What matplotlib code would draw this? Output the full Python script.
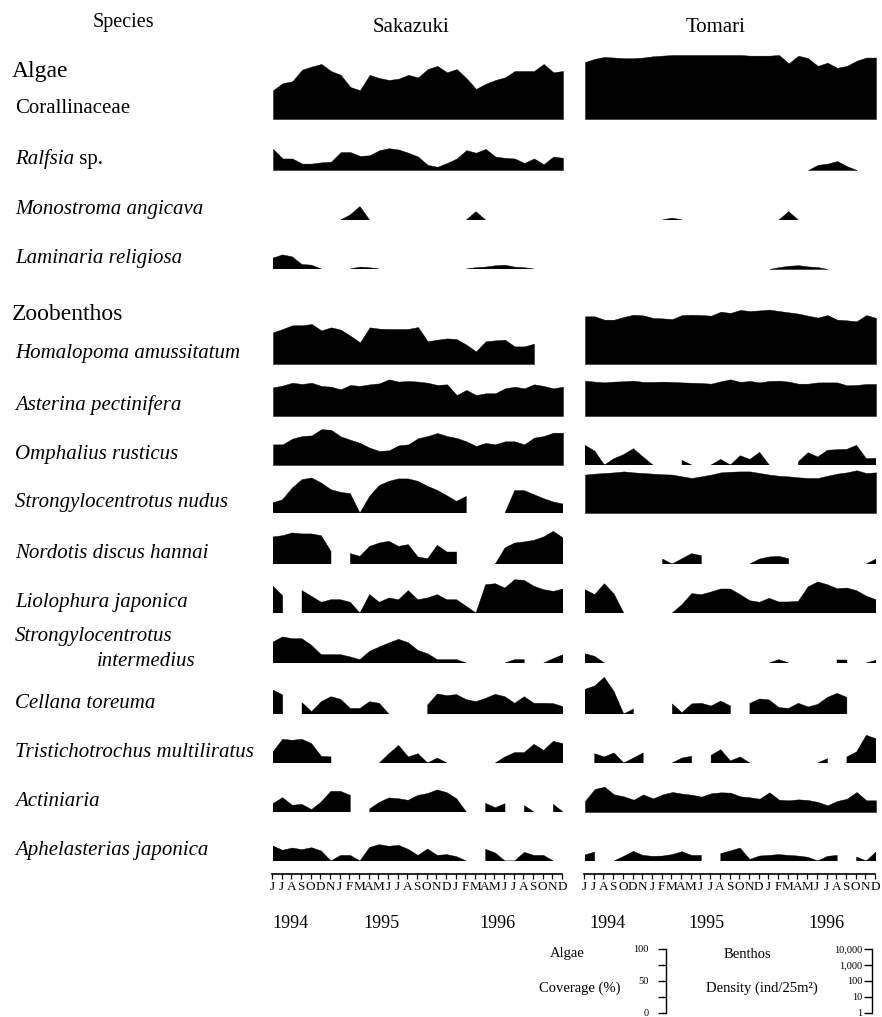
import numpy as np
import matplotlib.pyplot as plt

plt.rcParams['font.family'] = ['Liberation Serif', 'DejaVu Serif']

n = np.nan
W, H = 882, 1017

# month letters, June 1994 - December 1996 (as printed)
months = ['J', 'J', 'A', 'S', 'O', 'D', 'N',
          'J', 'F', 'M', 'A', 'M', 'J', 'J', 'A', 'S', 'O', 'N', 'D',
          'J', 'F', 'M', 'A', 'M', 'J', 'J', 'A', 'S', 'O', 'N', 'D']
years = ['1994', '1995', '1996']
sites = ['Sakazuki', 'Tomari']

# Algae : coverage (%)   nan = not found
coral_sak = [45, 56, 59, 77, 82, 86, 75, 69, 50, 45, 69, 64, 61, 63, 69, 65, 78, 83, 73, 78, 64, 47, 55, 61, 65, 75, 75, 75, 86, 73, 75]
coral_tom = [89, 94, 97, 96, 95, 95, 96, 98, 99, 100, 100, 100, 100, 100, 100, 100, 100, 99, 99, 99, 100, 87, 99, 95, 83, 88, 80, 83, 91, 96, 96]
ralf_sak = [33, 18, 18, 10, 10, 12, 13, 28, 28, 22, 23, 31, 34, 32, 27, 21, 8, 5, 11, 18, 31, 27, 33, 21, 19, 18, 11, 18, 9, 21, 19]
ralf_tom = [n] * 23 + [0, 8, 10, 14, 6, 0] + [n, n]
mono_sak = [n] * 7 + [0, 8, 21, 0] + [n] * 9 + [0, 13, 0] + [n] * 8
mono_tom = [n] * 8 + [0, 3, 0] + [n] * 9 + [0, 13, 0] + [n] * 8
lami_sak = [17, 22, 19, 7, 6, 0, n, n, 0, 3, 2, 0] + [n] * 8 + [0, 2, 3, 5, 6, 3, 2, 0] + [n] * 3
lami_tom = [n] * 19 + [0, 3, 5, 6, 4, 3, 0] + [n] * 5

# Zoobenthos : log10 density (ind/25m2)   nan = not found
homa_sak = [1.98, 2.19, 2.42, 2.42, 2.5, 2.1, 2.29, 2.15, 1.77, 1.35, 2.29, 2.21, 2.19, 2.19, 2.19, 2.31, 1.42, 1.52, 1.6, 1.56, 1.21, 0.79, 1.42, 1.48, 1.52, 1.1, 1.1, 1.27, n, n, n]
homa_tom = [2.98, 2.98, 2.77, 2.77, 2.94, 3.08, 3.04, 2.88, 2.85, 2.81, 3.06, 3.08, 3.06, 3.02, 3.27, 3.19, 3.38, 3.31, 3.35, 3.4, 3.31, 3.23, 3.15, 3.02, 2.9, 3.06, 2.77, 2.73, 2.67, 3.06, 2.88]
aste_sak = [1.79, 1.9, 2.08, 2.0, 2.08, 1.88, 1.83, 1.67, 1.94, 1.88, 1.98, 2.04, 2.29, 2.15, 2.19, 2.15, 2.08, 1.94, 1.98, 1.31, 1.63, 1.31, 1.42, 1.42, 1.73, 1.83, 1.73, 1.98, 1.88, 1.73, 1.83]
aste_tom = [2.21, 2.15, 2.1, 2.15, 2.17, 2.21, 2.13, 2.13, 2.15, 2.13, 2.1, 2.08, 2.06, 2.02, 2.17, 2.29, 2.13, 2.19, 2.1, 2.19, 2.21, 2.15, 2.02, 2.02, 2.1, 2.1, 2.1, 1.92, 1.94, 2.0, 2.0]
omph_sak = [1.29, 1.29, 1.65, 1.81, 1.85, 2.24, 2.2, 1.79, 1.58, 1.38, 1.08, 0.88, 0.92, 1.23, 1.29, 1.67, 1.81, 2.0, 1.81, 1.69, 1.48, 1.19, 1.38, 1.29, 1.48, 1.48, 1.29, 1.71, 1.81, 2.02, 2.02]
omph_tom = [1.23, 0.88, 0, 0.4, 0.65, 1.02, 0.5, 0, n, n, 0.29, 0, n, 0, 0.35, 0, 0.58, 0.35, 0.79, 0, n, n, 0.2, 0.77, 0.5, 0.92, 0.96, 0.98, 1.23, 0.4, 0.42]
nudu_sak = [0.63, 0.83, 1.56, 2.08, 2.19, 1.88, 1.46, 1.29, 1.21, 0, 1.04, 1.71, 1.98, 2.13, 2.13, 1.98, 1.67, 1.42, 1.08, 0.73, 1.04, n, n, n, 0, 1.4, 1.4, 1.15, 0.9, 0.69, 0.56]
nudu_tom = [2.4, 2.46, 2.5, 2.54, 2.6, 2.54, 2.5, 2.46, 2.42, 2.4, 2.29, 2.19, 2.29, 2.4, 2.54, 2.58, 2.6, 2.6, 2.5, 2.4, 2.33, 2.29, 2.23, 2.19, 2.19, 2.33, 2.46, 2.54, 2.67, 2.5, 2.54]
nord_sak = [1.69, 1.77, 1.94, 1.88, 1.88, 1.77, 0.79, n, 0.65, 0.48, 1.1, 1.31, 1.42, 1.1, 1.21, 0.44, 0.33, 1.17, 0.75, 0.75, n, n, n, 0, 1.0, 1.31, 1.38, 1.48, 1.69, 2.04, 1.63]
nord_tom = [n] * 8 + [0.31, 0, 0.33, 0.65, 0.52, n, n, n, n, 0, 0.31, 0.44, 0.48, 0.33] + [n] * 7 + [0, 0.31]
lioi_sak = [1.67, 1.08, n, 1.4, 1.04, 0.67, 0.83, 0.83, 0.67, 0, 1.15, 0.67, 0.94, 0.83, 1.4, 0.83, 0.94, 1.15, 0.83, 0.83, 0.42, 0, 1.77, 1.83, 1.56, 2.08, 2.04, 1.67, 1.46, 1.35, 1.5]
lioi_tom = [1.46, 1.15, 1.83, 1.19, 0, n, n, n, n, 0, 0.52, 1.21, 1.15, 1.31, 1.5, 1.5, 1.15, 0.77, 0.67, 0.92, 0.69, 0.69, 0.73, 1.63, 1.94, 1.77, 1.52, 1.56, 1.4, 1.06, 0.83]
inte_sak = [1.31, 1.63, 1.52, 1.52, 1.1, 0.52, 0.52, 0.52, 0.38, 0.21, 0.73, 1.0, 1.25, 1.48, 1.27, 0.79, 0.58, 0.21, 0.21, 0.21, 0, n, n, n, 0, 0.21, 0.21, n, 0, 0.27, 0.52]
inte_tom = [0.58, 0.42, 0] + [n] * 16 + [0, 0.21, 0, n, n, n, n, 0.21, 0.21, n, 0, 0.17]
cell_sak = [1.5, 1.19, n, 0.71, 0.15, 0.77, 1.08, 0.92, 0.35, 0.35, 0.77, 0.67, 0, n, n, n, 0.56, 1.25, 1.15, 1.21, 0.9, 0.77, 0.98, 1.23, 1.08, 0.67, 1.08, 0.67, 0.67, 0.65, 0.46]
cell_tom = [1.54, 1.75, 2.29, 1.4, 0, 0.31, n, n, n, 0.63, 0.08, 0.63, 0.67, 0.5, 0.81, 0.5, n, 0.67, 0.94, 0.88, 0.4, 0.35, 0.67, 0.44, 0.6, 1.04, 1.29, 1.04, n, n, n]
tris_sak = [0.69, 1.48, 1.42, 1.48, 1.21, 0.42, 0.38, n, n, n, n, 0, 0.58, 1.1, 0.38, 0.58, 0, 0.31, 0, n, n, n, n, 0, 0.38, 0.65, 0.65, 1.17, 0.79, 1.35, 1.21]
tris_tom = [n, 0.58, 0.38, 0.63, 0, 0.31, 0.63, n, n, 0, 0.31, 0.42, n, 0.48, 0.83, 0.13, 0.38, 0, n, n, n, n, n, n, 0, 0.27, n, 0.38, 0.69, 1.73, 1.52]
acti_sak = [0.52, 0.9, 0.42, 0.48, 0.15, 0.63, 1.29, 1.29, 1.04, n, 0.19, 0.6, 0.88, 0.83, 0.73, 1.04, 1.15, 1.38, 1.21, 0.83, 0, n, 0.54, 0.27, 0.52, n, 0.4, 0, n, 0.48, 0]
acti_tom = [0.69, 1.44, 1.58, 1.1, 0.98, 0.77, 1.1, 0.85, 1.1, 1.25, 1.15, 1.08, 0.96, 1.17, 1.23, 1.21, 0.98, 0.92, 0.83, 1.23, 0.77, 0.73, 0.79, 0.75, 0.63, 0.42, 0.69, 0.83, 1.25, 0.73, 0.73]
aphe_sak = [0.94, 0.67, 0.81, 0.71, 0.83, 0.63, 0, 0.35, 0.35, 0, 0.85, 1.02, 0.92, 0.98, 0.73, 0.35, 0.75, 0.35, 0.4, 0.27, 0, n, 0.73, 0.5, 0, 0, 0.54, 0.35, 0.35, 0, n]
aphe_tom = [0.38, 0.56, n, 0, 0.29, 0.6, 0.35, 0.29, 0.31, 0.4, 0.58, 0.35, 0.35, n, 0.46, 0.63, 0.81, 0.1, 0.31, 0.35, 0.4, 0.35, 0.31, 0.23, 0, 0.29, 0.35, n, 0.25, 0, 0.56]

# (label, group, Sakazuki, Tomari, baseline in px)
rows = [
    ('Corallinaceae', 'algae', coral_sak, coral_tom, 119),
    ('Ralfsia', 'algae', ralf_sak, ralf_tom, 170),
    ('Monostroma angicava', 'algae', mono_sak, mono_tom, 220),
    ('Laminaria religiosa', 'algae', lami_sak, lami_tom, 269),
    ('Homalopoma amussitatum', 'benthos', homa_sak, homa_tom, 364),
    ('Asterina pectinifera', 'benthos', aste_sak, aste_tom, 416),
    ('Omphalius rusticus', 'benthos', omph_sak, omph_tom, 465),
    ('Strongylocentrotus nudus', 'benthos', nudu_sak, nudu_tom, 513),
    ('Nordotis discus hannai', 'benthos', nord_sak, nord_tom, 564),
    ('Liolophura japonica', 'benthos', lioi_sak, lioi_tom, 613),
    ('Strongylocentrotus intermedius', 'benthos', inte_sak, inte_tom, 663),
    ('Cellana toreuma', 'benthos', cell_sak, cell_tom, 714),
    ('Tristichotrochus multiliratus', 'benthos', tris_sak, tris_tom, 763),
    ('Actiniaria', 'benthos', acti_sak, acti_tom, 812),
    ('Aphelasterias japonica', 'benthos', aphe_sak, aphe_tom, 861),
]

panel_x = [(273, 563), (585, 876)]   # left / right edge of each site column
full = 64                             # px for 100 % or 4 decades
t = np.arange(len(months))


def fx(x):
    return x / W


def fy(y):
    return 1 - y / H


fig = plt.figure(figsize=(W / 100, H / 100), dpi=100)

# area plots
for label, group, sak, tom, base in rows:
    for vals, (x0, x1) in zip([sak, tom], panel_x):
        ax = fig.add_axes([fx(x0), fy(base), fx(x1 - x0), full / H])
        ax.set_xlim(0, len(months) - 1)
        ax.set_ylim(0, 100 if group == 'algae' else 4)
        ax.axis('off')
        ax.patch.set_visible(False)
        v = np.array(vals, dtype=float)
        ok = ~np.isnan(v)
        ax.fill_between(t, 0, np.nan_to_num(v), where=ok, color='black', lw=0.3)

# species names
for label, group, sak, tom, base in rows:
    y = base - 10.5
    if label == 'Corallinaceae':
        fig.text(fx(15), fy(y), label, fontsize=15, va='center')
    elif label == 'Ralfsia':
        txt = fig.text(fx(15), fy(y), label, fontsize=15, va='center', style='italic')
        # upright "sp." right after the italic genus
        fig.add_artist(plt.Annotation(' sp.', xy=(1, 0), xycoords=txt, fontsize=15,
                                      va='bottom', ha='left'))
    elif label == 'Strongylocentrotus intermedius':
        fig.text(fx(15), fy(637), 'Strongylocentrotus', fontsize=15, va='center', style='italic')
        fig.text(fx(97), fy(662), 'intermedius', fontsize=15, va='center', style='italic')
    else:
        fig.text(fx(15), fy(y), label, fontsize=15, va='center', style='italic')

fig.text(fx(12), fy(72), 'Algae', fontsize=17, va='center')
fig.text(fx(12), fy(315), 'Zoobenthos', fontsize=17, va='center')
fig.text(fx(123), fy(23), 'Species', fontsize=14.5, va='center', ha='center')
fig.text(fx(411), fy(27), sites[0], fontsize=15, va='center', ha='center')
fig.text(fx(716), fy(27), sites[1], fontsize=15, va='center', ha='center')

# month axes and years
year_x = [[290, 381, 497], [607, 706, 826]]
for (x0, x1), yx in zip(panel_x, year_x):
    ax = fig.add_axes([fx(x0 - 1), fy(874), fx(x1 - x0), 0.0001])
    ax.set_xlim(0, len(months) - 1)
    for s in ['left', 'right', 'top']:
        ax.spines[s].set_visible(False)
    ax.spines['bottom'].set_linewidth(1.2)
    ax.set_yticks([])
    ax.set_xticks(t, months, fontsize=9.5)
    ax.tick_params(axis='x', direction='out', length=3.5, width=0.9, pad=1.5)
    for yr, x in zip(years, yx):
        fig.text(fx(x), fy(923), yr, fontsize=13, ha='center', va='center')

# scale keys
fig.text(fx(567), fy(954), 'Algae', fontsize=10.5, ha='center', va='center')
fig.text(fx(580), fy(988), 'Coverage (%)', fontsize=10.5, ha='center', va='center')
fig.text(fx(747), fy(954), 'Benthos', fontsize=10.5, ha='center', va='center')
fig.text(fx(762), fy(988), 'Density (ind/25m²)', fontsize=10.5, ha='center', va='center')

keys = [(660, 100, [0, 25, 50, 75, 100], ['0', '', '50', '', '100'], 8),
        (866, 4, [0, 1, 2, 3, 4], ['1', '10', '100', '1,000', '10,000'], 2.5)]
for kx, top, ticks, labels, pad in keys:
    ax = fig.add_axes([fx(kx), fy(1013), fx(6), full / H])
    ax.set_ylim(0, top)
    ax.set_xticks([])
    for s in ['left', 'top', 'bottom']:
        ax.spines[s].set_visible(False)
    ax.spines['right'].set_linewidth(1.0)
    ax.patch.set_visible(False)
    ax.set_yticks(ticks, labels, fontsize=7.5)
    ax.tick_params(axis='y', left=False, right=True, labelleft=True, labelright=False,
                   direction='in', length=6, width=1.0, pad=pad)

fig.savefig('out.png', dpi=100)
